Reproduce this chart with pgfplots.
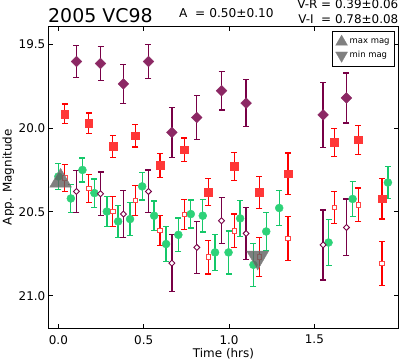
\documentclass[border=0pt]{standalone}
\usepackage{fontspec}
\setmainfont{DejaVu Sans}
\usepackage{pgfplots}
\usepackage{pgfplotstable}
\pgfplotsset{compat=1.18}
\definecolor{purpF}{RGB}{140,40,100}
\definecolor{purpE}{RGB}{120,0,70}
\definecolor{redF}{RGB}{255,55,55}
\definecolor{redE}{RGB}{255,0,0}
\definecolor{redO}{RGB}{255,70,70}
\definecolor{grnF}{RGB}{45,210,120}
\definecolor{grnE}{RGB}{20,200,105}
\definecolor{triG}{RGB}{95,95,95}
\definecolor{triL}{RGB}{128,128,128}

\pgfplotstableread{
x y e
0.106 19.603 0.097
0.247 19.615 0.103
0.381 19.736 0.116
0.528 19.603 0.101
0.665 20.026 0.150
0.811 19.937 0.133
0.956 19.777 0.115
1.100 19.851 0.139
1.551 19.921 0.194
1.688 19.820 0.149
}\purpfilled

\pgfplotstableread{
x y e
0.0375 19.915 0.058
0.178 19.972 0.061
0.319 20.110 0.067
0.451 20.046 0.067
0.596 20.223 0.073
0.737 20.129 0.069
0.879 20.383 0.081
1.030 20.229 0.084
1.178 20.384 0.095
1.345 20.272 0.123
1.616 20.086 0.082
1.758 20.070 0.087
1.897 20.422 0.121
}\redfilled

\pgfplotstableread{
x y e
0.000 20.289 0.079
0.073 20.420 0.085
0.141 20.250 0.072
0.211 20.388 0.084
0.284 20.498 0.091
0.350 20.557 0.097
0.420 20.543 0.097
0.491 20.348 0.082
0.561 20.523 0.088
0.631 20.692 0.106
0.703 20.637 0.101
0.776 20.513 0.084
0.846 20.523 0.098
0.918 20.742 0.107
0.997 20.742 0.128
1.065 20.539 0.106
1.143 20.816 0.129
1.218 20.617 0.115
1.294 20.477 0.104
1.583 20.683 0.136
1.724 20.423 0.106
1.931 20.325 0.094
}\green

\pgfplotstableread{
x y e
0.0375 20.298 0.079
0.178 20.360 0.084
0.319 20.498 0.088
0.451 20.432 0.090
0.596 20.611 0.091
0.737 20.517 0.090
0.879 20.770 0.100
1.030 20.613 0.101
1.178 20.770 0.115
1.345 20.660 0.132
1.616 20.474 0.097
1.758 20.458 0.101
1.897 20.808 0.131
}\redopen

\pgfplotstableread{
x y e
0.106 20.378 0.125
0.247 20.392 0.129
0.381 20.513 0.141
0.528 20.378 0.127
0.665 20.806 0.169
0.811 20.712 0.155
0.956 20.553 0.137
1.100 20.629 0.157
1.551 20.697 0.209
1.688 20.593 0.169
}\purpopen

\begin{document}
\begin{tikzpicture}
\begin{axis}[
  at={(0,0)}, anchor=south west,
  scale only axis, width=349bp, height=301.5bp,
  xmin=-0.055, xmax=1.99, ymin=19.394, ymax=21.193, y dir=reverse,
  xtick={0,0.5,1,1.5}, ytick={19.5,20,20.5,21},
  /pgf/number format/assume math mode=true,
  xticklabel style={/pgf/number format/fixed, /pgf/number format/fixed zerofill, /pgf/number format/precision=1},
  yticklabel style={/pgf/number format/fixed, /pgf/number format/fixed zerofill, /pgf/number format/precision=1},
  x tick label style={anchor=north, inner sep=0pt, yshift=-7bp},
  y tick label style={anchor=east, inner sep=0pt, xshift=-3.5bp},
  tick label style={font=\fontsize{12}{14}\selectfont},
  tick align=inside, major tick length=4bp,
  tick style={black, line width=0.8bp},
  xtick pos=both, ytick pos=both,
  axis line style={line width=1bp},
  legend style={at={(1,1)}, anchor=north east, xshift=-3bp, yshift=-4.5bp,
    draw=black, line width=0.8bp, font=\fontsize{8.5}{10}\selectfont,
    inner xsep=3bp, inner ysep=3.5bp, row sep=2.5bp},
  legend cell align=left,
]
\addplot[forget plot, only marks, mark=square*, mark size=3.8bp,
  mark options={rotate=45, fill=purpF, draw=purpF},
  error bars/.cd, y dir=both, y explicit,
  error bar style={purpE, line width=1.3bp},
  error mark options={rotate=90, purpE, line width=1.3bp, mark size=3bp}]
  table[x=x, y=y, y error=e] {\purpfilled};
\addplot[forget plot, only marks, mark=square*, mark size=3.9bp,
  mark options={fill=redF, draw=redF},
  error bars/.cd, y dir=both, y explicit,
  error bar style={redE, line width=1.3bp},
  error mark options={rotate=90, redE, line width=1.3bp, mark size=3bp}]
  table[x=x, y=y, y error=e] {\redfilled};
\addplot[forget plot, only marks, mark=*, mark size=4bp,
  mark options={fill=grnF, draw=grnF},
  error bars/.cd, y dir=both, y explicit,
  error bar style={grnE, line width=1.3bp},
  error mark options={rotate=90, grnE, line width=1.3bp, mark size=3bp}]
  table[x=x, y=y, y error=e] {\green};
\addplot[forget plot, only marks, mark=square*, mark size=2.2bp,
  mark options={fill=white, draw=redO, line width=0.9bp},
  error bars/.cd, y dir=both, y explicit,
  error bar style={redE, line width=1.3bp},
  error mark options={rotate=90, redE, line width=1.3bp, mark size=3bp}]
  table[x=x, y=y, y error=e] {\redopen};
\addplot[forget plot, only marks, mark=square*, mark size=2.1bp,
  mark options={rotate=45, fill=white, draw=purpE, line width=0.9bp},
  error bars/.cd, y dir=both, y explicit,
  error bar style={purpE, line width=1.3bp},
  error mark options={rotate=90, purpE, line width=1.3bp, mark size=3bp}]
  table[x=x, y=y, y error=e] {\purpopen};
\addplot[color=triL, only marks, mark=triangle*, mark size=12.5bp,
  mark options={fill=triG, draw=none, fill opacity=0.8},
  legend image post style={mark size=7bp, mark options={fill=triL, draw=triL, line width=0.1bp, fill opacity=1}}]
  coordinates {(0.013,20.315)};
\addlegendentry{max mag}
\addplot[color=triL, only marks, mark=triangle*, mark size=12.5bp,
  mark options={rotate=180, fill=triG, draw=none, fill opacity=0.8},
  legend image post style={mark size=7bp, mark options={rotate=180, fill=triL, draw=triL, line width=0.1bp, fill opacity=1}}]
  coordinates {(1.168,20.772)};
\addlegendentry{min mag}
\end{axis}
\node[anchor=base west, inner sep=0pt, font=\fontsize{19}{22}\selectfont, xshift=-1bp, yshift=3.8bp] at (current axis.north west) {2005 VC98};
\node[anchor=base west, inner sep=0pt, font=\fontsize{12.2}{14}\selectfont, xshift=130bp, yshift=9.2bp] at (current axis.north west) {A\ \ = 0.50±0.10};
\node[anchor=base east, inner sep=0pt, font=\fontsize{12}{14}\selectfont, xshift=0.5bp, yshift=18.2bp] at (current axis.north east) {V-R = 0.39±0.06};
\node[anchor=base east, inner sep=0pt, font=\fontsize{12}{14}\selectfont, xshift=0.5bp, yshift=3.2bp] at (current axis.north east) {V-I\ \ = 0.78±0.08};
\node[anchor=base, inner sep=0pt, font=\fontsize{12}{14}\selectfont, yshift=-29bp] at (current axis.south) {Time (hrs)};
\node[anchor=base, inner sep=0pt, rotate=90, font=\fontsize{12}{14}\selectfont] at ([xshift=-37.3bp]current axis.west) {App. Magnitude};
\pgfresetboundingbox
\useasboundingbox (-49bp,-34bp) rectangle (351bp,328bp);
\end{tikzpicture}
\end{document}
